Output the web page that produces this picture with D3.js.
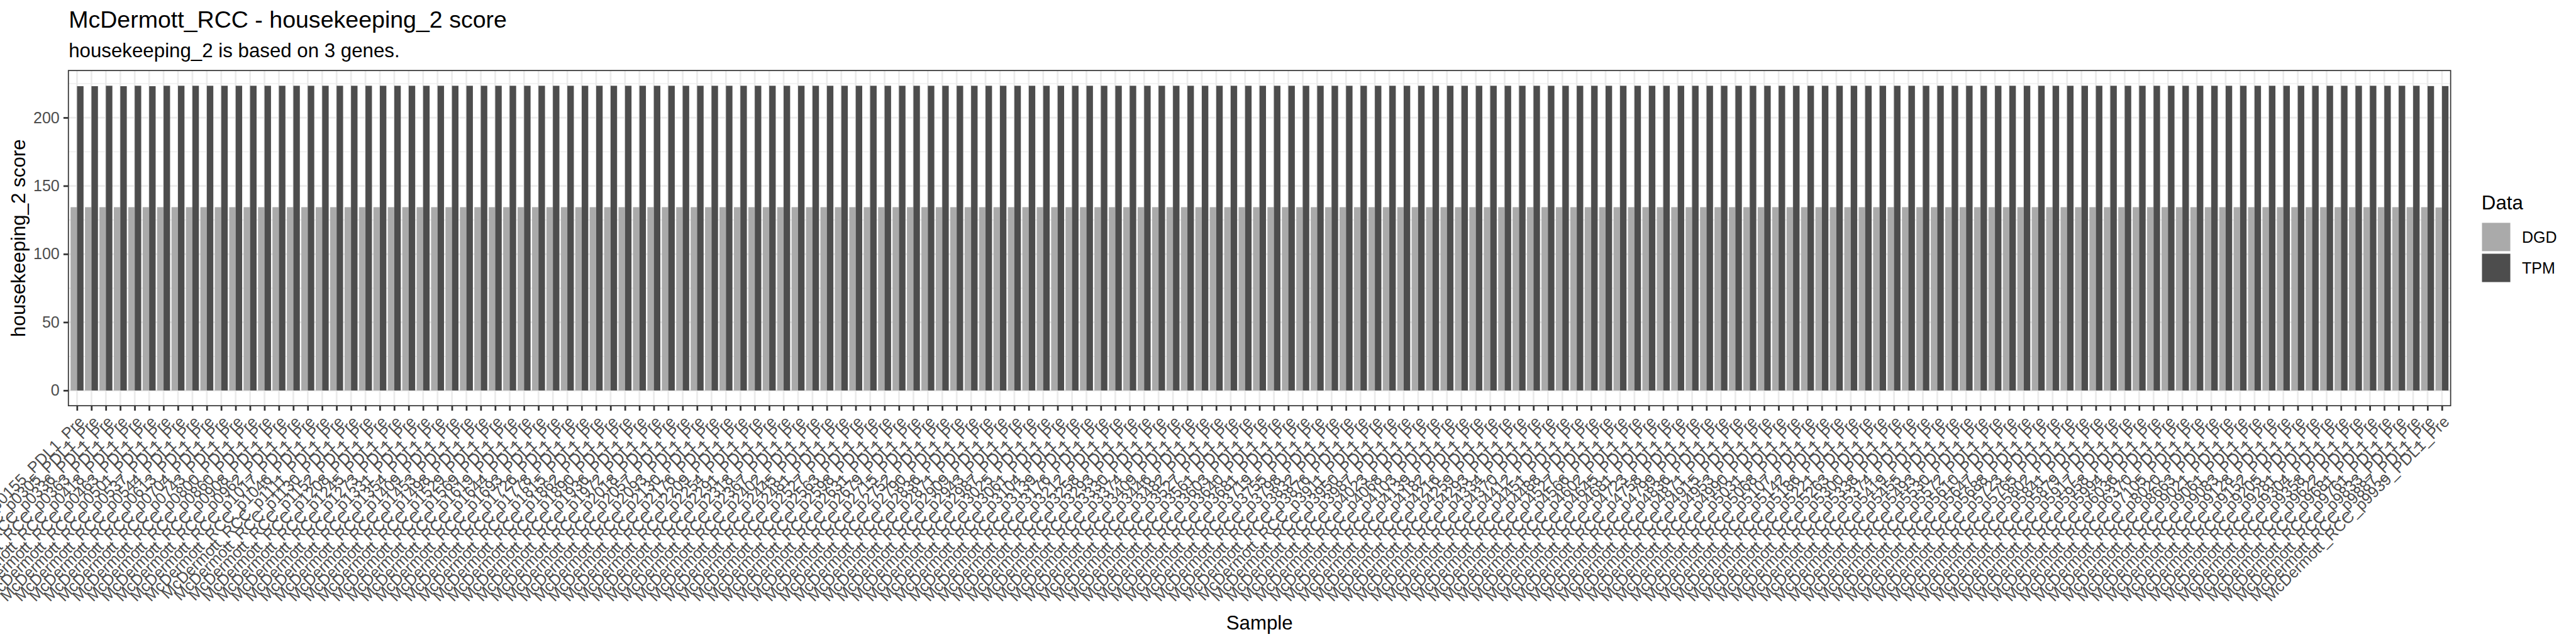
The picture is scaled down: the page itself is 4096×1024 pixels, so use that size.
<!DOCTYPE html>
<html>
<head>
<meta charset="utf-8">
<script src="https://cdn.jsdelivr.net/npm/d3@7/dist/d3.min.js"></script>
<style>
  html, body { margin: 0; padding: 0; background: #ffffff; }
  svg { display: block; }
  text { font-family: "Liberation Sans", Arial, Helvetica, sans-serif; }
</style>
</head>
<body>
<script>
// ---------------- data ----------------
const sampleIds = [
  "0155","0305","0336","0363","0418","0463","0501","0537","0544","0613",
  "0704","0743","0800","0860","0908","0962","1017","1046","1111","1130",
  "1152","1208","1245","1273","1331","1354","1409","1453","1498","1529",
  "1569","1619","1644","1693","1726","1778","1815","1862","1890","1936",
  "1972","2018","2057","2093","2130","2176","2209","2254","2291","2318",
  "2367","2402","2445","2481","2527","2563","2598","2631","2679","2715",
  "2752","2790","2836","2871","2909","2943","2987","3025","3061","3104",
  "3139","3176","3212","3258","3293","3330","3374","3409","3446","3482",
  "3527","3561","3603","3640","3681","3719","3755","3798","3832","3876",
  "3911","3950","3987","4023","4068","4103","4139","4182","4216","4259",
  "4293","4334","4370","4412","4451","4488","4527","4566","4602","4645",
  "4681","4723","4758","4799","4836","4871","4915","4953","4990","5031",
  "5068","5107","5142","5186","5221","5263","5300","5338","5374","5419",
  "5455","5493","5530","5572","5610","5647","5688","5723","5765","5802",
  "5841","5879","5917","5958","5994","6036","6370","7105","8020","8663",
  "9021","9061","9083","9128","9152","9205","9281","9304","9358","9622",
  "9681","9761","9833","9887","9939"
];
const samples = sampleIds.map(id => "McDermott_RCC_p" + id + "_PDL1_Pre");

const dgdValues = [
  134.4,134.4,134.4,134.4,134.4,134.4,134.4,134.4,134.4,134.4,
  134.4,134.4,134.4,134.4,134.4,134.4,134.4,134.4,134.4,134.4,
  134.4,134.4,134.4,134.4,134.4,134.4,134.4,134.4,134.4,134.4,
  134.4,134.4,134.4,134.4,134.4,134.4,134.4,134.4,134.4,134.4,
  134.4,134.4,134.4,134.4,134.4,134.4,134.4,134.4,134.4,134.4,
  134.4,134.4,134.4,134.4,134.4,134.4,134.4,134.4,134.4,134.4,
  134.4,134.4,134.4,134.4,134.4,134.4,134.4,134.4,134.4,134.4,
  134.4,134.4,134.4,134.4,134.4,134.4,134.4,134.4,134.4,134.4,
  134.4,134.4,134.4,134.4,134.4,134.4,134.4,134.4,134.4,134.4,
  134.4,134.4,134.4,134.4,134.4,134.4,134.4,134.4,134.4,134.4,
  134.4,134.4,134.4,134.4,134.4,134.4,134.4,134.4,134.4,134.4,
  134.4,134.4,134.4,134.4,134.4,134.4,134.4,134.4,134.4,134.4,
  134.4,134.4,134.4,134.4,134.4,134.4,134.4,134.4,134.4,134.4,
  134.4,134.4,134.4,134.4,134.4,134.4,134.4,134.4,134.4,134.4,
  134.4,134.4,134.4,134.4,134.4,134.4,134.4,134.4,134.4,134.4,
  134.4,134.4,134.4,134.4,134.4,134.4,134.4,134.4,134.4,134.4,
  134.4,134.4,134.4,134.4,134.2
];
const tpmValues = [
  223.1,223.1,223.4,223.1,223.4,223.1,223.4,223.4,223.4,223.4,
  223.4,223.4,223.4,223.4,223.4,223.4,223.4,223.4,223.4,223.4,
  223.4,223.4,223.4,223.4,223.4,223.4,223.4,223.4,223.4,223.4,
  223.4,223.4,223.4,223.4,223.4,223.4,223.4,223.4,223.4,223.4,
  223.4,223.4,223.4,223.4,223.4,223.4,223.4,223.4,223.4,223.4,
  223.4,223.4,223.4,223.4,223.4,223.4,223.4,223.4,223.4,223.4,
  223.4,223.4,223.4,223.4,223.4,223.4,223.4,223.4,223.4,223.4,
  223.4,223.4,223.4,223.4,223.4,223.4,223.4,223.4,223.4,223.4,
  223.4,223.4,223.4,223.4,223.4,223.4,223.4,223.4,223.4,223.4,
  223.4,223.4,223.4,223.4,223.4,223.4,223.4,223.4,223.4,223.4,
  223.4,223.4,223.4,223.4,223.4,223.4,223.4,223.4,223.4,223.4,
  223.4,223.4,223.4,223.4,223.4,223.4,223.4,223.4,223.4,223.4,
  223.4,223.4,223.4,223.4,223.4,223.4,223.4,223.4,223.4,223.4,
  223.4,223.4,223.4,223.4,223.4,223.4,223.4,223.4,223.4,223.4,
  223.4,223.4,223.4,223.4,223.4,223.4,223.4,223.4,223.4,223.4,
  223.4,223.4,223.4,223.4,223.4,223.4,223.4,223.4,223.4,223.4,
  223.4,223.4,223.4,223.2,223.2
];
const seriesNames = ["DGD", "TPM"];
const seriesColors = ["#AAAAAA", "#4D4D4D"];
const yTicks = [0, 50, 100, 150, 200];
const yMinorTicks = [25, 75, 125, 175, 225];

const titleText = "McDermott_RCC - housekeeping_2 score";
const subtitleText = "housekeeping_2 is based on 3 genes.";
const xTitle = "Sample";
const yTitle = "housekeeping_2 score";
const legendTitle = "Data";

// ---------------- layout (reference pixel space 6000x1500) ----------------
const W = 6000, H = 1500;
const panel = { left: 159.3, right: 5708, top: 164.3, bottom: 945 };

const svg = d3.select("body").append("svg")
  .attr("width", 4096).attr("height", 1024)
  .attr("viewBox", `0 0 ${W} ${H}`);

svg.append("rect").attr("width", W).attr("height", H).attr("fill", "#ffffff");

const maxVal = d3.max(tpmValues.concat(dgdValues));
const y = d3.scaleLinear()
  .domain([-0.05 * maxVal, 1.05 * maxVal])
  .range([panel.bottom, panel.top]);

const x = d3.scalePoint()
  .domain(samples)
  .range([panel.left, panel.right])
  .padding(0.6);
const step = x.step();
const sub = d3.scaleBand().domain(seriesNames).range([-0.45 * step, 0.45 * step]);

const g = svg.append("g");

// panel background
g.append("rect")
  .attr("x", panel.left).attr("y", panel.top)
  .attr("width", panel.right - panel.left).attr("height", panel.bottom - panel.top)
  .attr("fill", "#ffffff");

// grid: minor horizontal
g.append("g").selectAll("line").data(yMinorTicks).join("line")
  .attr("x1", panel.left).attr("x2", panel.right)
  .attr("y1", d => y(d)).attr("y2", d => y(d))
  .attr("stroke", "#EBEBEB").attr("stroke-width", 2);
// grid: major horizontal
g.append("g").selectAll("line").data(yTicks).join("line")
  .attr("x1", panel.left).attr("x2", panel.right)
  .attr("y1", d => y(d)).attr("y2", d => y(d))
  .attr("stroke", "#EBEBEB").attr("stroke-width", 4);
// grid: major vertical
g.append("g").selectAll("line").data(samples).join("line")
  .attr("x1", d => x(d)).attr("x2", d => x(d))
  .attr("y1", panel.top).attr("y2", panel.bottom)
  .attr("stroke", "#EBEBEB").attr("stroke-width", 4);

// bars
const rows = [];
samples.forEach((s, i) => {
  rows.push({ sample: s, series: "DGD", value: dgdValues[i] });
  rows.push({ sample: s, series: "TPM", value: tpmValues[i] });
});
const color = d3.scaleOrdinal().domain(seriesNames).range(seriesColors);
g.append("g").selectAll("rect").data(rows).join("rect")
  .attr("x", d => x(d.sample) + sub(d.series))
  .attr("width", sub.bandwidth())
  .attr("y", d => y(Math.max(0, d.value)))
  .attr("height", d => Math.abs(y(d.value) - y(0)))
  .attr("fill", d => color(d.series));

// panel border
g.append("rect")
  .attr("x", panel.left).attr("y", panel.top)
  .attr("width", panel.right - panel.left).attr("height", panel.bottom - panel.top)
  .attr("fill", "none").attr("stroke", "#333333").attr("stroke-width", 2.5);

// y axis
const yAxis = d3.axisLeft(y).tickValues(yTicks).tickSize(11.5).tickPadding(9).tickFormat(d3.format("d"));
const yAxisG = svg.append("g").attr("transform", `translate(${panel.left},0)`).call(yAxis);
yAxisG.select(".domain").remove();
yAxisG.selectAll(".tick line").attr("stroke", "#333333").attr("stroke-width", 4);
yAxisG.selectAll(".tick text")
  .attr("fill", "#4D4D4D").attr("font-size", 36.7)
  .attr("font-family", "'Liberation Sans', Arial, Helvetica, sans-serif");

// x axis
const xAxis = d3.axisBottom(x).tickSize(11.5).tickPadding(0);
const xAxisG = svg.append("g").attr("transform", `translate(0,${panel.bottom})`).call(xAxis);
xAxisG.select(".domain").remove();
xAxisG.selectAll(".tick line").attr("stroke", "#333333").attr("stroke-width", 4);
xAxisG.selectAll(".tick text")
  .attr("fill", "#4D4D4D").attr("font-size", 36.7)
  .attr("font-family", "'Liberation Sans', Arial, Helvetica, sans-serif")
  .attr("text-anchor", "end")
  .attr("x", 0).attr("y", 0)
  .attr("dy", "0.72em")
  .attr("transform", "translate(0,21) rotate(-45)");

// titles
svg.append("text").attr("x", 160).attr("y", 64)
  .attr("font-size", 55).attr("fill", "#000000").text(titleText);
svg.append("text").attr("x", 160).attr("y", 134)
  .attr("font-size", 45.8).attr("fill", "#000000").text(subtitleText);

svg.append("text")
  .attr("x", (panel.left + panel.right) / 2).attr("y", 1466)
  .attr("text-anchor", "middle").attr("font-size", 45.8).attr("fill", "#000000")
  .text(xTitle);

svg.append("text")
  .attr("transform", `translate(58,${(panel.top + panel.bottom) / 2}) rotate(-90)`)
  .attr("text-anchor", "middle").attr("font-size", 45.8).attr("fill", "#000000")
  .text(yTitle);

// legend
const lg = svg.append("g").attr("transform", "translate(5780,0)");
lg.append("text").attr("x", 0).attr("y", 488).attr("font-size", 45.8).attr("fill", "#000000").text(legendTitle);
const keySize = 66, keyStep = 72, keyTop = 519;
lg.selectAll("rect.key").data(seriesNames).join("rect")
  .attr("class", "key")
  .attr("x", 1).attr("y", (d, i) => keyTop + i * keyStep)
  .attr("width", keySize).attr("height", keySize)
  .attr("fill", d => color(d));
lg.selectAll("text.lab").data(seriesNames).join("text")
  .attr("class", "lab")
  .attr("x", 94).attr("y", (d, i) => keyTop + i * keyStep + keySize / 2)
  .attr("dy", "0.36em")
  .attr("font-size", 36.7).attr("fill", "#000000")
  .text(d => d);
</script>
</body>
</html>
